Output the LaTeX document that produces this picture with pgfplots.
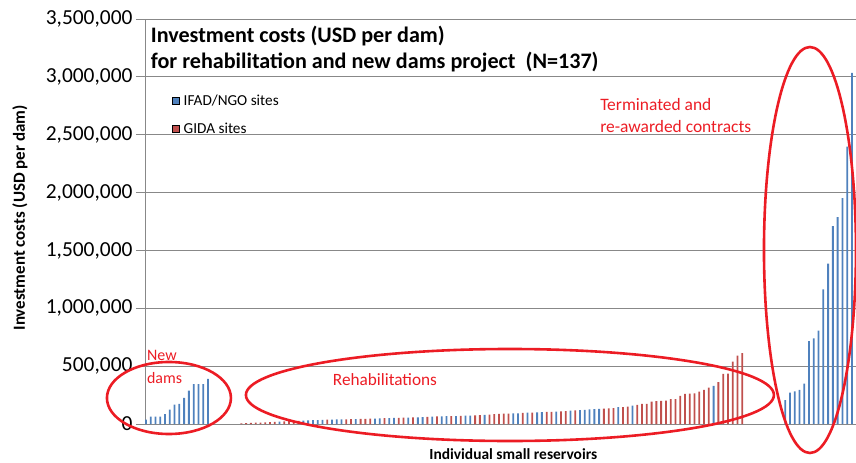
\documentclass[border=0pt]{standalone}
\usepackage{fontspec}
\setmainfont{Carlito}
\usepackage{pgfplots}
\pgfplotsset{compat=1.18}
\definecolor{xlblue}{HTML}{4F81BD}
\definecolor{xlred}{HTML}{C0504D}
\definecolor{gridgray}{HTML}{888888}
\definecolor{annred}{HTML}{EC1C24}
\begin{document}
\begin{tikzpicture}
\begin{axis}[
  scale only axis, width=711bp, height=405bp,
  xmin=-0.2, xmax=148.85, ymin=0, ymax=3500000,
  axis x line=bottom, axis y line=left,
  axis line style={draw=gridgray, line width=0.9bp, -},
  xtick=\empty,
  ytick={0,500000,1000000,1500000,2000000,2500000,3000000,3500000},
  scaled y ticks=false,
  yticklabel style={font=\fontsize{21.5}{24}\selectfont, /pgf/number format/.cd, fixed, 1000 sep={,}, assume math mode=true},
  tick align=outside, major tick length=9bp,
  tick style={draw=gridgray, line width=0.9bp},
  ymajorgrids, grid style={draw=gridgray, line width=0.9bp},
  ylabel={Investment costs (USD per dam)},
  ylabel style={at={(axis description cs:-0.176,0.509)}, anchor=center, font=\bfseries\fontsize{17}{20}\selectfont},
  xlabel={Individual small reservoirs},
  xlabel style={at={(axis description cs:0.518,-0.074)}, anchor=center, font=\bfseries\fontsize{15.5}{18}\selectfont},
  clip=false,
  legend style={at={(0.037,0.818)}, anchor=north west, draw=none, fill=none, font=\fontsize{15.3}{18}\selectfont, row sep=12bp, inner sep=0pt},
  legend cell align=left,
  legend image code/.code={\draw[#1] (0bp,-3.5bp) rectangle (7bp,3.5bp); \path (10bp,0bp);},
]
\addplot[ybar, bar width=1.8bp, bar shift=0pt, fill=xlblue, draw=none] coordinates {
(0,37000)(1,63000)(2,63000)(3,63000)(4,86000)(5,124000)(6,167000)(7,173000)(8,225000)(9,288000)(10,345000)(11,345000)(12,345000)(13,389000)
(28,20000)(33,30000)(34,31000)(35,33000)(36,34000)(37,35000)(39,38000)(40,39000)(41,40000)(44,43000)(48,47000)(49,48000)(51,51000)(52,52000)(55,56000)(57,58000)(58,60000)(60,64000)(62,66000)(63,67000)(65,69000)(67,72000)(68,73000)(71,79000)(77,91000)(78,92000)(80,98000)(82,101000)(83,103000)(86,108000)(89,115000)(91,120000)(92,123000)(93,126000)(94,128000)(95,131000)(99,145000)(102,159000)(119,330000)
(134,207000)(135,271000)(136,282000)(137,294000)(138,348000)(139,717000)(140,740000)(141,806000)(142,1163000)(143,1385000)(144,1710000)(145,1788000)(146,1952000)(147,2398000)(148,3034000)
};
\addlegendentry{IFAD/NGO sites}
\addplot[ybar, bar width=1.8bp, bar shift=0pt, fill=xlred, draw=none] coordinates {
(20,5000)(21,7000)(22,9000)(23,11000)(24,12000)(25,14000)(26,16000)(27,18000)(29,22000)(30,24000)(31,26000)(32,28000)(38,37000)(42,41000)(43,42000)(45,44000)(46,45000)(47,46000)(50,50000)(53,54000)(54,55000)(56,57000)(59,62000)(61,65000)(64,68000)(66,71000)(69,75000)(70,77000)(72,82000)(73,86000)(74,88000)(75,89000)(76,90000)(79,96000)(81,99000)(84,104000)(85,105000)(87,109000)(88,112000)(90,117000)(96,133000)(97,135000)(98,138000)(100,146000)(101,150000)(103,165000)(104,173000)(105,174000)(106,194000)(107,197000)(108,199000)(109,202000)(110,214000)(111,215000)(112,243000)(113,260000)(114,262000)(115,264000)(116,280000)(117,295000)(118,315000)(120,361000)(121,434000)(122,436000)(123,538000)(124,590000)(125,613000)
};
\addlegendentry{GIDA sites}
\node[anchor=north west, align=left, font=\bfseries\fontsize{22.2}{26}\selectfont, inner sep=0pt] at (rel axis cs:0.008,0.982) {Investment costs (USD per dam)\\for rehabilitation and new dams project\ \ (N=137)};
\node[anchor=west, align=left, text=annred, font=\fontsize{16}{23}\selectfont, inner sep=0pt] at (axis cs:0.2,497000) {New\\dams};
\node[anchor=center, text=annred, font=\fontsize{17.3}{20}\selectfont, inner sep=0pt] at (axis cs:50.1,380000) {Rehabilitations};
\node[anchor=west, align=left, text=annred, font=\fontsize{17.5}{22}\selectfont, inner sep=0pt] at (axis cs:95.2,2662000) {Terminated and\\re-awarded contracts};
\draw[annred, line width=2.6bp] (axis cs:4.82,224700) ellipse [x radius=62bp, y radius=36bp];
\draw[annred, line width=2.6bp] (axis cs:76.3,250600) ellipse [x radius=264bp, y radius=46bp];
\draw[annred, line width=2.6bp] (axis cs:139.2,1503700) ellipse [x radius=46bp, y radius=203bp];
\coordinate (LL) at (rel axis cs:0,0);
\coordinate (UR) at (rel axis cs:1,1);
\end{axis}
\pgfresetboundingbox
\path ([shift={(-145bp,-39bp)}]LL) rectangle ([shift={(0bp,19bp)}]UR);
\end{tikzpicture}
\end{document}
